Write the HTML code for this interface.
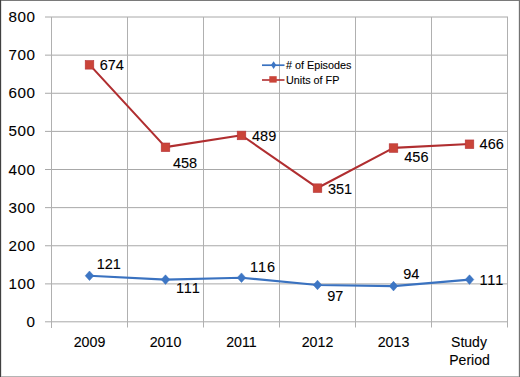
<!DOCTYPE html>
<html><head><meta charset="utf-8">
<style>
html,body{margin:0;padding:0;background:#fff;}
body{width:520px;height:377px;overflow:hidden;position:relative;}
svg{position:absolute;left:0;top:0;display:block;}
text{font-family:"Liberation Sans",sans-serif;fill:#000;stroke:#000;stroke-width:0.1px;}
</style></head>
<body>
<svg width="520" height="377" viewBox="0 0 520 377">
<rect x="0" y="0" width="520" height="377" fill="#fff"/>
<rect x="0" y="0" width="520" height="1" fill="#7a7a7a"/>
<rect x="0" y="376" width="520" height="1" fill="#b4b4b4"/>
<rect x="0" y="0" width="1" height="377" fill="#404040"/>
<rect x="1" y="1" width="1" height="375" fill="#e2e2e2"/>
<rect x="519" y="0" width="1" height="377" fill="#737373"/>
<rect x="518" y="1" width="1" height="375" fill="#e8e8e8"/>
<g stroke="#a8a8a8" stroke-width="1" fill="none">
<line x1="45" y1="283.875" x2="508" y2="283.875"/>
<line x1="45" y1="245.750" x2="508" y2="245.750"/>
<line x1="45" y1="207.625" x2="508" y2="207.625"/>
<line x1="45" y1="169.500" x2="508" y2="169.500"/>
<line x1="45" y1="131.375" x2="508" y2="131.375"/>
<line x1="45" y1="93.250" x2="508" y2="93.250"/>
<line x1="45" y1="55.125" x2="508" y2="55.125"/>
<line x1="45" y1="17.000" x2="508" y2="17.000"/>
<line x1="45" y1="321.8" x2="508" y2="321.8"/>
</g>
<g stroke="#b0b0b0" stroke-width="1" fill="none">
<line x1="127.5" y1="17" x2="127.5" y2="327.5"/>
<line x1="203.5" y1="17" x2="203.5" y2="327.5"/>
<line x1="279.5" y1="17" x2="279.5" y2="327.5"/>
<line x1="355.5" y1="17" x2="355.5" y2="327.5"/>
<line x1="431.5" y1="17" x2="431.5" y2="327.5"/>
<line x1="507.5" y1="17" x2="507.5" y2="327.5"/>
<line x1="51.5" y1="17" x2="51.5" y2="328"/>
</g>
<g font-size="15.2" text-anchor="end" letter-spacing="0.6">
<text x="35.6" y="327.10">0</text>
<text x="35.6" y="288.98">100</text>
<text x="35.6" y="250.85">200</text>
<text x="35.6" y="212.72">300</text>
<text x="35.6" y="174.60">400</text>
<text x="35.6" y="136.47">500</text>
<text x="35.6" y="98.35">600</text>
<text x="35.6" y="60.23">700</text>
<text x="35.6" y="22.10">800</text>
</g>
<g font-size="14.2" text-anchor="middle">
<text x="89.5" y="347">2009</text>
<text x="165.5" y="347">2010</text>
<text x="241.5" y="347">2011</text>
<text x="317.5" y="347">2012</text>
<text x="393.5" y="347">2013</text>
<text x="469" y="347" font-size="14">Study</text>
<text x="469.5" y="365" font-size="14">Period</text>
</g>
<polyline fill="none" stroke="#B02E30" stroke-width="2.1" stroke-linejoin="round" points="89.5,64.62 165.5,147.10 241.5,135.26 317.5,187.96 393.5,147.86 469.5,144.05"/>
<g fill="#CA4439" stroke="#B5343A" stroke-width="0.6">
<rect x="85.20" y="60.52" width="8.6" height="8.6"/>
<rect x="161.20" y="143.00" width="8.6" height="8.6"/>
<rect x="237.20" y="131.16" width="8.6" height="8.6"/>
<rect x="313.20" y="183.86" width="8.6" height="8.6"/>
<rect x="389.20" y="143.76" width="8.6" height="8.6"/>
<rect x="465.20" y="139.95" width="8.6" height="8.6"/>
</g>
<polyline fill="none" stroke="#3A72C0" stroke-width="2.1" stroke-linejoin="round" points="89.5,275.79 165.5,279.61 241.5,277.70 317.5,284.96 393.5,286.10 469.5,279.61"/>
<g fill="#3D76C4" stroke="#3A72C0" stroke-width="0.5">
<path d="M89.50 270.99 L93.80 275.79 L89.50 280.59 L85.20 275.79 Z"/>
<path d="M165.50 274.81 L169.80 279.61 L165.50 284.41 L161.20 279.61 Z"/>
<path d="M241.50 272.90 L245.80 277.70 L241.50 282.50 L237.20 277.70 Z"/>
<path d="M317.50 280.16 L321.80 284.96 L317.50 289.76 L313.20 284.96 Z"/>
<path d="M393.50 281.30 L397.80 286.10 L393.50 290.90 L389.20 286.10 Z"/>
<path d="M469.50 274.81 L473.80 279.61 L469.50 284.41 L465.20 279.61 Z"/>
</g>
<g font-size="14.5">
<text x="99.65" y="70.20">674</text>
<text x="172.91" y="167.50">458</text>
<text x="252.01" y="140.70">489</text>
<text x="327.99" y="193.80">351</text>
<text x="404.31" y="162.30">456</text>
<text x="479.61" y="149.20">466</text>
<text x="96.70" y="269.00">121</text>
<text x="175.91" y="293.40" letter-spacing="0.9">111</text>
<text x="250.10" y="272.10" letter-spacing="0.9">116</text>
<text x="327.19" y="301.00">97</text>
<text x="403.29" y="279.10">94</text>
<text x="479.40" y="284.80" letter-spacing="0.9">111</text>
</g>
<line x1="262" y1="65.2" x2="284.5" y2="65.2" stroke="#3A72C0" stroke-width="1.7"/>
<path d="M273.6 61.3 L276.2 65.1 L273.6 68.9 L271 65.1 Z" fill="#3D76C4"/>
<line x1="262" y1="80" x2="284.5" y2="80" stroke="#B02E30" stroke-width="1.6"/>
<rect x="269.3" y="76.2" width="7.4" height="6.4" fill="#CA4439"/>
<g font-size="10.8" fill="#262626" stroke="#262626" stroke-width="0.1">
<text x="286" y="69.2"># of Episodes</text>
<text x="286" y="83.5">Units of FP</text>
</g>
</svg>
</body></html>
